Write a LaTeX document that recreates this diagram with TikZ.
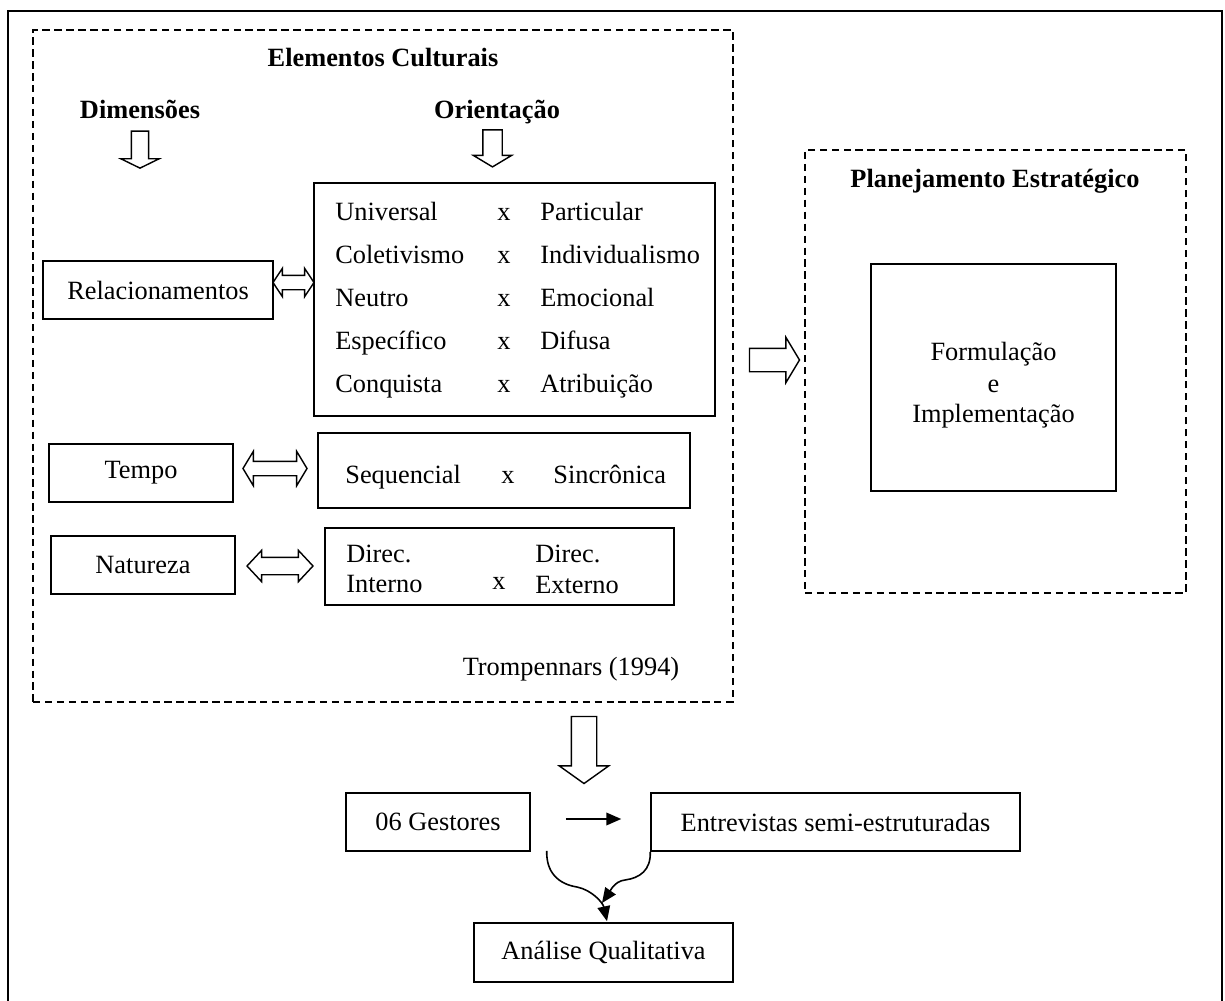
\documentclass[tikz,border=0pt]{standalone}
\usepackage{fontspec}
\setmainfont{Liberation Serif}
\usetikzlibrary{arrows.meta, shapes.arrows, calc}

\begin{document}
\begin{tikzpicture}[x=0.02cm, y=-0.02cm,
    font=\fontsize{15}{18}\selectfont,
    box/.style={draw, line width=0.9pt, inner sep=0pt},
    grp/.style={draw, line width=0.8pt, dash pattern=on 4.2pt off 2.6pt, inner sep=0pt},
    hdr/.style={font=\fontsize{15}{18}\selectfont\bfseries, anchor=base, inner sep=0pt},
    txt/.style={anchor=base west, inner sep=0pt},
    mid/.style={anchor=base, inner sep=0pt},
    darrow/.style={single arrow, draw, line width=0.8pt, inner xsep=0pt},
    dbl/.style={double arrow, draw, line width=0.8pt, inner xsep=0pt},
    link/.style={line width=0.9pt, -{Triangle[length=8.5pt, width=7.2pt]}}]
    \useasboundingbox (0,0) rectangle (1225,1001);
    \draw[line width=0.9pt] (8,11) rectangle (1222,1012);

    \node[grp, minimum width=14cm, minimum height=13.44cm] (cult) at (383,366) {};
    \node[grp, minimum width=7.62cm, minimum height=8.86cm] (plan) at (995.5,371.5) {};

    \node[hdr] (culttitle) at (383,66) {Elementos Culturais};
    \node[hdr] (dimtitle) at (140,118) {Dimensões};
    \node[hdr] (orititle) at (497,118) {Orientação};
    \node[hdr] (plantitle) at (995,187) {Planejamento Estratégico};
    \node[mid] (ref) at (571,675) {Trompennars (1994)};

    \node[darrow, rotate=-90, minimum height=0.74cm, minimum width=0.74cm, inner ysep=0.16cm,
        single arrow head extend=0.21cm, single arrow tip angle=128] (dimarr) at (140,147.5) {};
    \node[darrow, rotate=-90, minimum height=0.74cm, minimum width=0.74cm, inner ysep=0.18cm,
        single arrow head extend=0.19cm, single arrow tip angle=118] (oriarr) at (492.5,145.5) {};

    \node[box, minimum width=4.6cm, minimum height=1.16cm] (rel) at (158,290) {Relacionamentos};
    \node[box, minimum width=3.68cm, minimum height=1.16cm] (tmp) at (141,473) {Tempo};
    \node[box, minimum width=3.68cm, minimum height=1.16cm] (nat) at (143,565) {Natureza};

    \node[box, minimum width=8.02cm, minimum height=4.66cm] (ori) at (514.5,299.5) {};
    \foreach \a/\b [count=\i] in {Universal/Particular, Coletivismo/Individualismo,
        Neutro/Emocional, Específico/Difusa, Conquista/Atribuição}{
        \node[txt] (ol\i) at (335,{177+43*\i}) {\a};
        \node[mid] (ox\i) at (504,{177+43*\i}) {x};
        \node[txt] (or\i) at (540,{177+43*\i}) {\b};
    }

    \node[box, minimum width=7.44cm, minimum height=1.5cm] (seq) at (504,470.5) {};
    \node[txt] (seql) at (345,483) {Sequencial};
    \node[mid] (seqx) at (508,483) {x};
    \node[txt] (seqr) at (553,483) {Sincrônica};

    \node[box, minimum width=6.98cm, minimum height=1.54cm] (dir) at (499.5,566.5) {};
    \node[txt] (dirl1) at (346,562) {Direc.};
    \node[txt] (dirl2) at (346,592) {Interno};
    \node[mid] (dirx) at (499,589) {x};
    \node[txt] (dirr1) at (535,562) {Direc.};
    \node[txt] (dirr2) at (535,593) {Externo};

    \node[dbl, minimum height=0.82cm, minimum width=0.54cm, inner ysep=0.13cm,
        double arrow head extend=0.14cm, double arrow tip angle=113] (relarr) at (293.5,282.5) {};
    \node[dbl, minimum height=1.28cm, minimum width=0.66cm, inner ysep=0.13cm,
        double arrow head extend=0.2cm, double arrow tip angle=118] (tmparr) at (275,468.5) {};
    \node[dbl, minimum height=1.32cm, minimum width=0.6cm, inner ysep=0.16cm,
        double arrow head extend=0.14cm, double arrow tip angle=94] (natarr) at (280,566) {};

    \node[darrow, minimum height=1cm, minimum width=0.88cm, inner ysep=0.22cm,
        single arrow head extend=0.22cm, single arrow tip angle=118] (planarr) at (771,360) {};

    \node[box, minimum width=4.9cm, minimum height=4.54cm] (form) at (993.5,377.5) {};
    \node[mid] (form1) at (993.5,360) {Formulação};
    \node[mid] (form2) at (993.5,392) {e};
    \node[mid] (form3) at (993.5,422) {Implementação};

    \node[darrow, rotate=-90, minimum height=1.34cm, minimum width=0.96cm, inner ysep=0.24cm,
        single arrow head extend=0.24cm, single arrow tip angle=109] (metarr) at (584,745.5) {};

    \node[box, minimum width=3.68cm, minimum height=1.16cm] (ges) at (438,822) {06 Gestores};
    \node[box, minimum width=7.38cm, minimum height=1.16cm] (ent) at (835.5,822) {Entrevistas semi-estruturadas};
    \node[box, minimum width=5.18cm, minimum height=1.18cm] (ana) at (603.5,952.5) {Análise Qualitativa};

    \coordinate (gesout) at ($(ges.south east)+(16,-1)$);
    \coordinate (enttip) at (602,903);
    \draw[link] ($(ges.east)+(35,-3)$) -- ($(ent.west)+(-29,-3)$);
    \draw[link] (gesout) .. controls (546,872) and (558,884) .. (577,887)
        .. controls (592,890) and (603,903) .. ($(ana.north)+(3.5,-1)$);
    \draw[link] (ent.south west) .. controls (651,870) and (640,878) .. (625,880)
        .. controls (614,881) and (609,893) .. (enttip);
\end{tikzpicture}
\end{document}
